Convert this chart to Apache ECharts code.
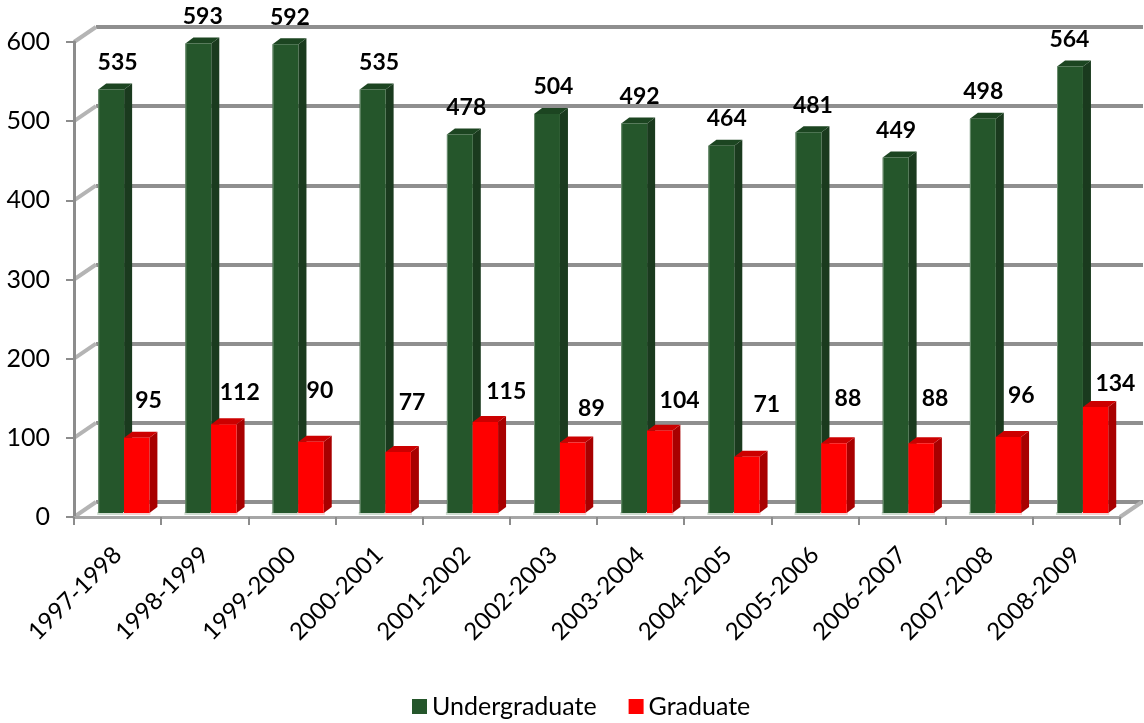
<!DOCTYPE html>
<html><head><meta charset="utf-8">
<style>html,body{margin:0;padding:0;background:#fff}#c{width:1144px;height:723px}</style>
<script src="https://cdn.jsdelivr.net/npm/echarts@6/dist/echarts.min.js"></script>
</head><body><div id="c"></div>
<script>
const categories = ['1997-1998','1998-1999','1999-2000','2000-2001','2001-2002','2002-2003','2003-2004','2004-2005','2005-2006','2006-2007','2007-2008','2008-2009'];
const undergraduate = [535,593,592,535,478,504,492,464,481,449,498,564];
const graduate = [95,112,90,77,115,89,104,71,88,88,96,134];
const yTicks = [0,100,200,300,400,500,600];
// label placement nudges in px, relative to each bar's top and band centre
const ugLabelDx = [0,-2,-2,0,0,0,-1,-1,-2,-6,-6,-7];
const gLabelDx = [31,35,28,33,40,38,39,39,33,33,32,39];
const gLabelDy = [-37,-32,-51,-49,-30,-34,-30,-52,-45,-45,-41,-23];

const FONT = 'Lato, Carlito, sans-serif';
const GRID = {left:74, right:24, top:42, bottom:206};
const DX = 22, DY = -15, BASE = -4;

function barRender(colors, fromFrac, toFrac, dxArr, dyArr, dyDefault){
  return function(params, api){
    const i = api.value(0), v = api.value(1);
    const band = api.size([1,0])[0];
    const c = api.coord([i, v]), z = api.coord([i, 0]);
    const x0 = c[0] + band*fromFrac, x1 = c[0] + band*toFrac;
    const yT = c[1] + BASE, yB = z[1] + BASE;
    const dx = 8, dy = -6;
    const poly = (pts, fill) => ({type:'polygon', shape:{points:pts}, style:{fill:fill}});
    return {type:'group', children:[
      poly([[x0-1,yB+2],[x1+1,yB+2],[x1+1,yB-1],[x0-1,yB-1]], colors.glow),
      poly([[x1,yB],[x1+dx,yB+dy],[x1+dx,yT+dy],[x1,yT]], colors.side),
      poly([[x0,yT],[x0+dx,yT+dy],[x1+dx,yT+dy],[x1,yT]], colors.top),
      poly([[x0,yT],[x1,yT],[x1,yB],[x0,yB]], colors.front),
      {type:'rect', shape:{x:x0,y:yT,width:1,height:yB-yT}, style:{fill:colors.edge}},
      {type:'text', z2:50, style:{
        text:String(v), x:c[0]+dxArr[i], y:yT+(dyArr?dyArr[i]:dyDefault),
        align:'center', verticalAlign:'middle', fill:'#000',
        font:'bold 23px '+FONT}}
    ]};
  };
}
const wallRender = function(params, api){
  const v = api.value(0), cs = params.coordSys;
  const y = api.coord([0, v])[1];
  const line = (x1,y1,x2,y2) => ({type:'line', shape:{x1,y1,x2,y2}, style:{stroke:'#b4b4b4', lineWidth:4}});
  const kids = [line(cs.x, y, cs.x+DX, y+DY)];
  if (v === 0) kids.push(line(cs.x+cs.width, y, cs.x+cs.width+DX, y+DY));
  return {type:'group', children:kids};
};
const chart = echarts.init(document.getElementById('c'), null, {renderer:'canvas'});
chart.setOption({
  animation:false, backgroundColor:'#fff',
  textStyle:{fontFamily:FONT},
  legend:{
    data:['Undergraduate','Graduate'], left:407, top:689, itemWidth:15, itemHeight:15,
    itemGap:32, icon:'rect', textStyle:{fontSize:25, color:'#000', fontFamily:FONT}
  },
  grid:[
    GRID,
    {left:GRID.left+DX, right:GRID.right-DX-1, top:GRID.top+DY, bottom:GRID.bottom-DY}
  ],
  xAxis:[
    {type:'category', gridIndex:0, data:categories, z:3,
     axisLine:{show:true, lineStyle:{color:'#a6a6a6', width:3}},
     axisTick:{show:true, alignWithLabel:false, length:8, lineStyle:{color:'#8c8c8c', width:2}},
     axisLabel:{rotate:45, interval:0, fontSize:24, color:'#000', margin:34, padding:[6,0,0,0], fontFamily:FONT}},
    {type:'category', gridIndex:1, data:categories, show:false}
  ],
  yAxis:[
    {type:'value', gridIndex:0, min:0, max:600, interval:100, z:3,
     axisLine:{show:true, lineStyle:{color:'#8c8c8c', width:3}},
     axisTick:{show:true, length:8, lineStyle:{color:'#8c8c8c', width:2}},
     axisLabel:{fontSize:25, color:'#000', margin:24, padding:[4,0,0,0], fontFamily:FONT},
     splitLine:{show:false}},
    {type:'value', gridIndex:1, min:0, max:600, interval:100,
     axisLine:{show:false}, axisTick:{show:false}, axisLabel:{show:false},
     splitLine:{show:true, lineStyle:{color:'#8f8f8f', width:4}}}
  ],
  series:[
    {name:'walls', type:'custom', xAxisIndex:0, yAxisIndex:0, z:1, silent:true,
     data:yTicks.map(v=>[v]), encode:{x:-1,y:0}, renderItem:wallRender, clip:false},
    {name:'Undergraduate', type:'custom', xAxisIndex:0, yAxisIndex:0, z:5, clip:false,
     itemStyle:{color:'#25562b'},
     data:undergraduate.map((v,i)=>[i,v]), encode:{x:0,y:1},
     renderItem:barRender({front:'#25562b',side:'#1a3a1e',top:'#1c4521',edge:'#6e8f72',glow:'#cfdcd0'},-0.222,0.075,ugLabelDx,null,-27)},
    {name:'Graduate', type:'custom', xAxisIndex:0, yAxisIndex:0, z:6, clip:false,
     itemStyle:{color:'#ff0000'},
     data:graduate.map((v,i)=>[i,v]), encode:{x:0,y:1},
     renderItem:barRender({front:'#ff0000',side:'#a80000',top:'#cc0000',edge:'#ff0000',glow:'#f6d0d0'},0.075,0.365,gLabelDx,gLabelDy)}
  ]
});
</script></body></html>
